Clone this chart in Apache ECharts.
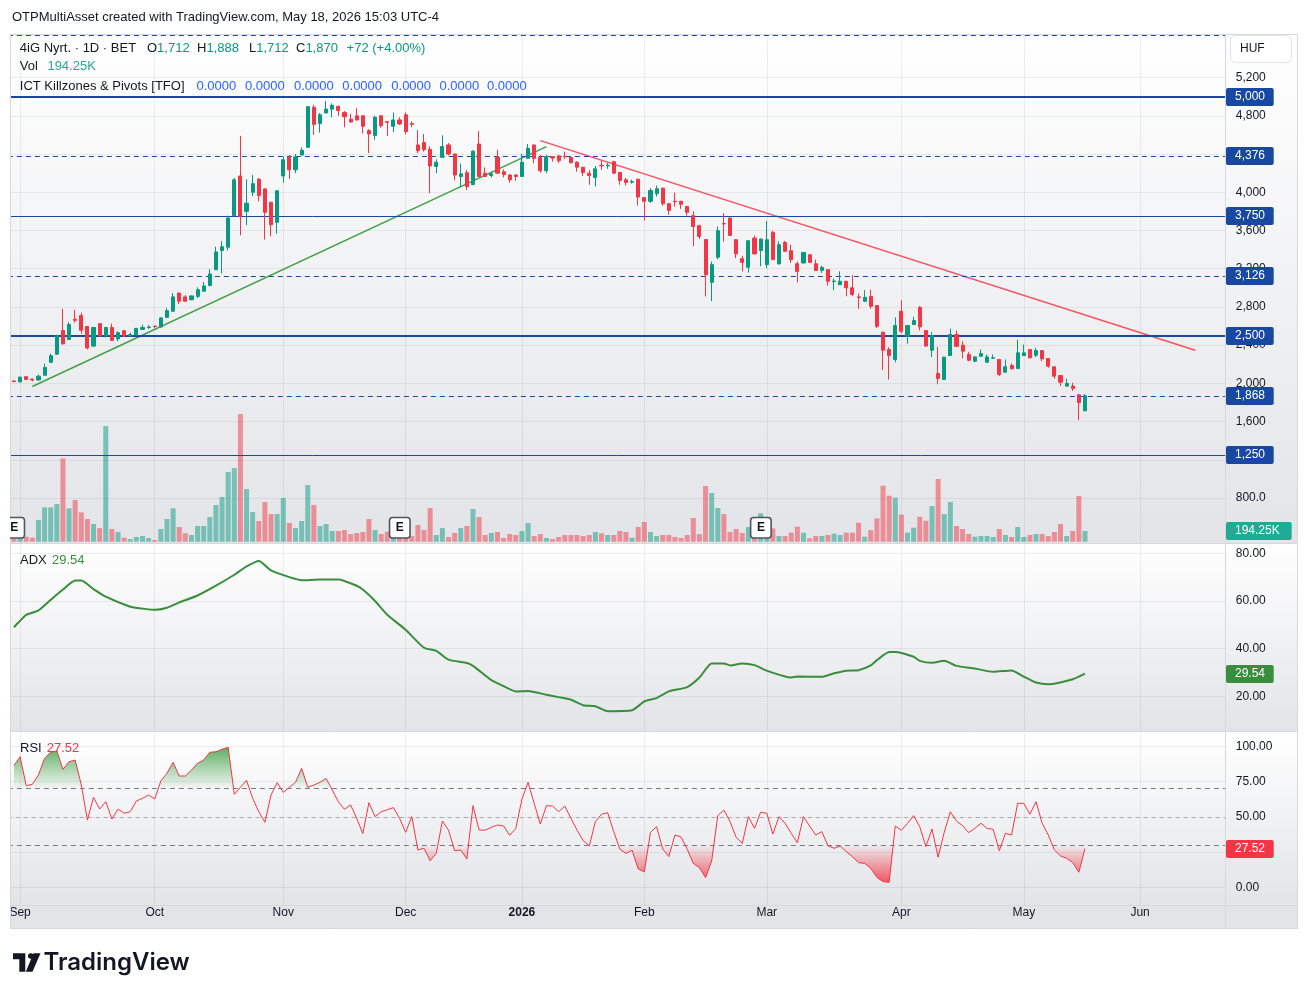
<!DOCTYPE html>
<html><head><meta charset="utf-8">
<script src="https://cdn.jsdelivr.net/npm/echarts@6/dist/echarts.min.js"></script>
<style>html,body{margin:0;padding:0;background:#fff}#c{width:1308px;height:997px}</style>
</head><body><div id="c"></div>
<script>
// ---------------- DATA (bar index 0 = 1 Sep 2025; -1 = 29 Aug 2025) ----------------
const firstBar = -1;
const open = [2025,2015,2070,2045,2035,2085,2220,2305,2552,2460,2670,2710,2595,2390,2625,2495,2585,2465,2550,2495,2505,2565,2585,2600,2590,2690,2755,2945,2905,
2875,2910,2965,3025,3190,3390,3425,3755,4170,3800,4000,4135,4035,3895,3685,4170,4365,4235,4390,4470,4890,4720,4830,4870,4900,4835,4765,4800,4800,4645,4595,
4800,4740,4690,4757,4810,4720,4495,4520,4450,4270,4365,4495,4400,4165,4205,4080,4505,4200,4175,4365,4215,4180,4180,4165,4355,4495,4365,4225,4373,4380,4375,
4365,4315,4262,4200,4155,4282,4276,4320,4206,4130,4105,4137,3945,3905,3985,4043,3880,3905,3905,3850,3755,3650,3505,3057,3320,3672,3730,3503,3305,3215,3520,
3390,3242,3580,3250,3475,3388,3252,3260,3346,3252,3182,3190,3065,3033,3068,3000,2905,2858,2910,2814,2535,2354,2250,2755,2493,2615,2796,2552,
2347,2103,2041,2291,2511,2399,2302,2232,2284,2221,2263,2250,2117,2187,2155,2291,2354,2294,2343,2260,2173,2082,1971,1971,1880,1712];
const high = [2030,2070,2075,2048,2092,2205,2310,2510,2780,2640,2770,2740,2595,2590,2630,2590,2625,2545,2560,2530,2580,2615,2610,2600,2690,2790,2945,2950,2925,
2920,3005,3060,3195,3430,3490,3755,4150,4590,4135,4180,4150,4040,3900,4020,4375,4390,4400,4470,4900,4915,4830,4955,4930,4905,4850,4820,4880,4805,4660,4800,
4805,4745,4835,4785,4835,4740,4650,4610,4480,4345,4595,4515,4405,4300,4235,4440,4640,4260,4215,4445,4240,4190,4190,4400,4505,4500,4390,4390,4378,4390,4425,
4370,4325,4265,4230,4275,4330,4305,4330,4210,4150,4130,4140,3950,4045,4070,4048,3885,3995,3910,3860,3800,3660,3510,3275,3642,3782,3735,3510,3335,3500,3545,
3515,3700,3597,3485,3490,3450,3275,3375,3350,3295,3232,3195,3096,3172,3072,3134,2940,2975,2980,2818,2540,2378,2690,2870,2610,2696,2807,2555,
2535,2382,2278,2573,2552,2441,2330,2282,2354,2302,2302,2255,2250,2208,2458,2406,2358,2372,2345,2262,2176,2086,2048,2006,1890,1888];
const low = [2015,2015,2035,2020,2030,2083,2215,2300,2405,2455,2635,2520,2355,2385,2490,2480,2445,2440,2485,2485,2500,2560,2570,2575,2585,2685,2750,2830,2855,
2870,2895,2960,3015,3185,3150,3390,3750,3550,3655,3960,3905,3505,3540,3565,4100,4140,4200,4385,4465,4600,4625,4825,4785,4800,4680,4730,4750,4615,4410,4550,
4675,4590,4630,4705,4605,4680,4410,4425,3990,4200,4360,4385,4125,4050,4025,4075,4160,4160,4155,4195,4155,4100,4120,4160,4350,4305,4205,4200,4320,4305,4350,
4300,4215,4170,4078,4060,4235,4245,4190,4078,4070,4090,3860,3705,3890,3955,3860,3765,3850,3825,3755,3435,3510,2910,2860,3300,3485,3545,3310,3172,3160,3350,
3225,3205,3290,3245,3378,3260,3057,3255,3262,3178,3155,3023,2975,3030,2912,2912,2780,2855,2780,2580,2140,2040,2220,2520,2415,2610,2555,2385,
2275,1990,2038,2288,2378,2260,2232,2221,2280,2218,2258,2075,2115,2145,2152,2288,2262,2274,2232,2163,2048,1971,1968,1920,1615,1712];
const close = [2018,2065,2040,2035,2075,2165,2290,2500,2414,2615,2660,2555,2370,2585,2495,2585,2450,2530,2495,2510,2575,2585,2590,2595,2685,2760,2905,2860,2860,
2915,2980,3020,3145,3375,3430,3730,4130,3745,3885,4090,3965,3790,3660,4015,4340,4235,4370,4440,4895,4710,4810,4870,4910,4855,4790,4735,4757,4690,4610,4785,
4695,4732,4757,4715,4635,4712,4435,4445,4275,4315,4478,4400,4180,4192,4060,4430,4165,4165,4192,4200,4185,4130,4165,4315,4460,4355,4225,4373,4358,4330,4370,
4310,4262,4206,4175,4245,4276,4282,4200,4123,4102,4112,3950,3905,4018,4036,3880,3810,3900,3875,3790,3642,3538,3137,3242,3597,3668,3548,3355,3266,3492,3355,
3510,3503,3295,3450,3382,3294,3172,3370,3266,3182,3214,3068,3071,3068,3000,2930,2898,2900,2806,2597,2347,2291,2605,2545,2605,2657,2591,2390,
2500,2051,2274,2511,2388,2336,2242,2277,2312,2277,2268,2093,2173,2152,2319,2319,2267,2343,2257,2180,2075,2012,1999,1947,1798,1870];
const volumeK = [60,70,90,73,394,624,624,685,1515,606,758,533,412,321,248,2103,230,176,73,48,85,103,67,30,230,412,606,267,155,
121,285,285,448,667,812,1267,1339,2321,957,539,376,721,503,503,794,339,248,376,1030,667,285,321,194,194,212,139,158,176,412,212,
139,180,130,100,110,103,303,212,612,121,248,85,158,248,285,594,448,121,158,176,67,139,121,194,339,103,139,67,48,85,121,
121,121,103,121,176,152,121,121,194,176,73,267,358,176,103,121,121,85,67,121,430,139,1012,885,612,503,176,230,158,267,200,
515,250,242,103,103,164,273,164,61,103,103,121,145,121,164,164,345,91,212,424,1018,836,800,491,164,255,455,382,
648,1139,503,721,285,230,139,91,103,103,85,230,121,85,267,85,121,139,139,103,176,321,103,194,830,194.25];
const rsi = [86.2,92.6,72.0,73.0,79.6,91.4,95.7,96.6,83.6,89.0,90.2,72.5,47.7,63.8,55.5,60.7,48.4,55.5,52.5,53.6,61.2,63.1,65.4,62.6,75.4,80.8,88.6,78.9,78.9,
83.1,87.9,90.2,95.7,96.1,97.8,99.2,65.9,70.9,75.8,63.1,53.6,46.1,65.4,74.2,67.3,70.9,74.4,84.3,70.9,72.5,74.4,77.2,69.0,60.7,55.3,58.4,48.9,38.1,60.0,50.1,
53.6,55.0,56.5,48.9,39.0,50.1,26.5,27.7,18.9,24.1,47.0,40.6,26.0,26.5,20.1,57.9,40.6,40.6,42.5,44.2,43.5,36.9,41.8,62.6,74.4,59.5,44.9,57.9,57.6,53.6,57.6,
48.9,40.6,33.1,29.3,46.6,51.8,52.9,39.5,27.0,24.1,26.3,13.0,11.1,39.0,43.0,27.2,21.8,37.1,35.7,27.0,17.0,14.0,6.9,18.7,50.8,54.8,46.6,35.5,31.2,50.1,41.8,
53.2,52.5,37.8,50.1,45.4,38.3,31.7,50.1,43.5,37.1,39.5,29.5,27.7,29.3,25.3,21.8,17.5,17.0,13.5,7.1,4.1,3.6,43.5,40.4,45.4,50.8,43.0,28.9,
41.4,21.3,39.0,53.6,47.0,43.7,38.8,41.8,45.4,41.8,41.1,26.0,38.3,37.1,59.5,59.5,51.8,60.7,45.4,37.1,26.5,22.3,20.6,17.5,10.7,27.52];
const adxBars = [-1,0,1,3,5,7,9,10,12,14,18,20,22,24,26,29,32,35,37,39,41,44,46,49,52,55,56,58,60,63,66,68,70,73,74,77,79,81,83,86,88,90,92,94,96,100,102,104,106,109,111,113,115,116,118,120,122,126,127,131,133,135,137,139,140,142,143,146,147,149,151,153,156,159,162,164,166,168,172,174];
const adxVal = [49,51.7,54.2,56.1,60.5,64.8,68.6,68.6,65,61.8,57.6,56.8,56.3,57.2,59.4,62.3,66.4,71,74.5,76.8,72.8,70,68.7,69,69,66.4,64.8,60,54.2,47.9,40.4,39.1,35.4,34,32.8,26.8,24.3,22.1,22.3,20.7,19.7,18.6,16.3,15.9,13.8,14.2,17.9,19.3,22.1,23.9,27.9,33.8,33.8,33,33.8,33.1,30.8,27.9,28.3,28.2,29.7,30.8,31,33,35.2,38.6,38.6,36.6,34.9,34.1,34.9,32.8,31.7,30.3,30.9,28.3,25.8,25.1,27.2,29.54];
const monthBars = [0,22,43,63,82,102,122,144,164,183];
const monthLabels = ['Sep','Oct','Nov','Dec','2026','Feb','Mar','Apr','May','Jun'];
const levelValues = [5640,5000,4376,3750,3126,2500,1868,1250];
const levelDashed = [true,false,true,false,true,false,true,false];
const levelBold   = [false,true,false,false,false,true,false,false];
const levelTagged = [false,true,true,true,true,true,true,true];
const trendGreen = [[2,1967],[86,4478]];
const trendRed = [[85,4540],[192,2347]];
const earningsBars = [-1,62,121];
const rsiLevels = [70,50,30];

// ---------------- SETUP ----------------
const F = '"Liberation Sans", Arial, sans-serif';
const TXT = '#131722', UP = '#089981', DN = '#f23645', BLUE = '#1848a0';
const GRIDC = 'rgba(42,46,57,0.08)', NONE = 'rgba(0,0,0,0)';
const catFrom = -2, catTo = 197;
const categories = [];
for (let i = catFrom; i <= catTo; i++) categories.push(String(i));
const ci = i => i - catFrom;
const N = open.length, last = N - 1, lastBar = firstBar + last;
const monthMap = new Map(monthBars.map((b, k) => [ci(b), monthLabels[k]]));

const candleData = categories.map(() => '-');
const volData = categories.map(() => '-');
const rsiData = categories.map(() => '-');
for (let k = 0; k < N; k++) {
  const c = ci(firstBar + k);
  candleData[c] = [open[k], close[k], low[k], high[k]];
  volData[c] = {value: volumeK[k], itemStyle: {color: close[k] >= open[k] ? 'rgba(8,153,129,0.5)' : 'rgba(242,54,69,0.5)'}};
  rsiData[c] = rsi[k];
}
const adxData = adxBars.map((b, k) => [ci(b), adxVal[k]]);

const L = 7.86, W = 1217.9;
const grids = [
  {top: 1.15, height: 573.3},   // 0 price
  {top: 398.7, height: 143},    // 1 volume
  {top: 553.3, height: 190.8},  // 2 adx
  {top: 746.2, height: 141.2},  // 3 rsi
  {top: 746.2, height: 42.36},  // 4 rsi >70 zone
  {top: 845.04, height: 42.36}, // 5 rsi <30 zone
  {top: 35, height: 508},       // 6 frame main
  {top: 544, height: 187},      // 7 frame adx
  {top: 733, height: 172}       // 8 frame rsi + time labels
].map(g => Object.assign({left: L, width: W, outerBoundsMode: 'none', containLabel: false}, g));

function xAx(g, extra) {
  return Object.assign({type: 'category', gridIndex: g, data: categories, boundaryGap: false,
    axisLine: {show: false}, axisTick: {show: false}, axisLabel: {show: false}, splitLine: {show: false}}, extra || {});
}
const monthSplit = {show: true, interval: (i) => monthMap.has(i), lineStyle: {color: GRIDC, width: 1}};
const xAxes = [xAx(0), xAx(1), xAx(2), xAx(3), xAx(4), xAx(5),
  xAx(6, {splitLine: monthSplit}), xAx(7, {splitLine: monthSplit}),
  xAx(8, {splitLine: monthSplit, axisLabel: {show: true, interval: (i) => monthMap.has(i), margin: 2,
    color: TXT, fontSize: 12, fontFamily: F,
    formatter: (v, i) => { const s = monthMap.get(i) || ''; return s === '2026' ? '{b|2026}' : s; },
    rich: {b: {fontWeight: 'bold', fontSize: 12, fontFamily: F, color: TXT}}}})];

const priceTicks = []; for (let v = 0; v <= 6000; v += 400) priceTicks.push(v);
const hiddenY = g => ({type: 'value', gridIndex: g, show: false});
const lab = (fmt) => ({show: true, margin: 10, color: TXT, fontSize: 12, fontFamily: F, formatter: fmt});
const yAxes = [
  {type: 'value', gridIndex: 0, position: 'right', min: 0, max: 6000, interval: 400,
   axisLine: {show: false}, axisTick: {show: false},
   axisLabel: lab(v => (v >= 1600 && v <= 5200) ? v.toLocaleString('en-US') : (v === 800 ? '800.0' : '')),
   splitLine: {show: true, lineStyle: {color: priceTicks.map(v => (v >= 800 && v <= 5200) ? GRIDC : NONE)}}},
  {type: 'value', gridIndex: 1, show: false, min: 0, max: 2600},
  {type: 'value', gridIndex: 2, position: 'right', min: 0, max: 80, interval: 20,
   axisLine: {show: false}, axisTick: {show: false},
   axisLabel: lab(v => v === 0 ? '' : v.toFixed(2)),
   splitLine: {show: true, lineStyle: {color: [NONE, GRIDC, GRIDC, GRIDC, GRIDC]}}},
  {type: 'value', gridIndex: 3, position: 'right', min: 0, max: 100, interval: 25,
   axisLine: {show: false}, axisTick: {show: false},
   axisLabel: lab(v => v.toFixed(2)),
   splitLine: {show: true, lineStyle: {color: GRIDC}}},
  {type: 'value', gridIndex: 4, show: false, min: 70, max: 100},
  {type: 'value', gridIndex: 5, show: false, min: 0, max: 30},
  hiddenY(6), hiddenY(7), hiddenY(8)
];

const levelLines = levelValues.map((v, i) => ({yAxis: v,
  lineStyle: {color: BLUE, width: levelBold[i] ? 2 : 1, type: levelDashed[i] ? [5, 4] : 'solid'}}));

const series = [
  {type: 'candlestick', xAxisIndex: 0, yAxisIndex: 0, data: candleData, barWidth: 3.6, z: 5,
   itemStyle: {color: UP, color0: DN, borderColor: UP, borderColor0: DN, borderWidth: 1},
   markLine: {symbol: ['none', 'none'], silent: true, animation: false, label: {show: false}, data: levelLines}},
  {type: 'line', xAxisIndex: 0, yAxisIndex: 0, data: trendGreen.map(p => [ci(p[0]), p[1]]), showSymbol: false,
   lineStyle: {color: '#43a047', width: 1.5}, z: 4},
  {type: 'line', xAxisIndex: 0, yAxisIndex: 0, data: trendRed.map(p => [ci(p[0]), p[1]]), showSymbol: false,
   lineStyle: {color: '#f7525f', width: 1.5}, z: 4},
  {type: 'bar', xAxisIndex: 1, yAxisIndex: 1, data: volData, barWidth: 5, z: 2},
  {type: 'line', xAxisIndex: 2, yAxisIndex: 2, data: adxData, showSymbol: false, smooth: 0.2,
   lineStyle: {color: '#388e3c', width: 2}},
  {type: 'line', xAxisIndex: 3, yAxisIndex: 3, data: rsiData, showSymbol: false, z: 5,
   lineStyle: {color: '#f23645', width: 1},
   markLine: {symbol: ['none', 'none'], silent: true, animation: false, label: {show: false},
     data: rsiLevels.map(v => ({yAxis: v, lineStyle: v === 50
       ? {color: 'rgba(120,123,134,0.55)', width: 1, type: [4, 4]}
       : {color: '#787b86', width: 1, type: [5, 4]}}))}},
  {type: 'line', xAxisIndex: 4, yAxisIndex: 4, data: rsiData, showSymbol: false, z: 3,
   lineStyle: {width: 0, opacity: 0},
   areaStyle: {origin: 'start', opacity: 1, color: {type: 'linear', x: 0, y: 746, x2: 0, y2: 789, global: true,
     colorStops: [{offset: 0, color: 'rgba(56,160,64,0.85)'}, {offset: 1, color: 'rgba(56,160,64,0.0)'}]}}},
  {type: 'line', xAxisIndex: 5, yAxisIndex: 5, data: rsiData, showSymbol: false, z: 3,
   lineStyle: {width: 0, opacity: 0},
   areaStyle: {origin: 'end', opacity: 1, color: {type: 'linear', x: 0, y: 845, x2: 0, y2: 887, global: true,
     colorStops: [{offset: 0, color: 'rgba(242,54,69,0.0)'}, {offset: 1, color: 'rgba(242,54,69,0.9)'}]}}}
];

const chart = echarts.init(document.getElementById('c'), null, {renderer: 'canvas'});
chart.setOption({animation: false, backgroundColor: '#ffffff', grid: grids, xAxis: xAxes, yAxis: yAxes, series: series});

// ---------------- DECORATION ----------------
const fmt0 = v => Math.round(v).toLocaleString('en-US');
const grad = (c1, c2) => ({type: 'linear', x: 0, y: 0, x2: 0, y2: 1, colorStops: [{offset: 0, color: c1}, {offset: 1, color: c2}]});
const els = [];
function pane(y1, y2) {
  els.push({type: 'rect', shape: {x: 10, y: y1, width: 1287, height: y2 - y1}, style: {fill: grad('#ffffff', '#e3e4e8')}, z: -10, silent: true});
}
pane(34, 543); pane(543, 732); pane(732, 905);
els.push({type: 'rect', shape: {x: 10, y: 905, width: 1287, height: 24}, style: {fill: '#e3e4e8'}, z: -10, silent: true});
const sep = (x1, y1, x2, y2, c) => els.push({type: 'line', shape: {x1, y1, x2, y2}, style: {stroke: c || '#d6d8de', lineWidth: 1}, z: 40, silent: true});
sep(10, 543.5, 1297, 543.5); sep(10, 731.5, 1297, 731.5); sep(10, 905.5, 1297, 905.5);
sep(1225.5, 34, 1225.5, 929);
els.push({type: 'rect', shape: {x: 10.5, y: 34.5, width: 1287, height: 894}, style: {fill: NONE, stroke: '#d6d8de', lineWidth: 1}, z: 40, silent: true});
// left cover (outside chart frame)
els.push({type: 'rect', shape: {x: 0, y: 30, width: 10, height: 905}, style: {fill: '#ffffff'}, z: 55, silent: true});

function txt(x, y, text, color, font, extra) {
  els.push(Object.assign({type: 'text', x, y, z: 70, silent: true,
    style: {text, fill: color || TXT, font: font || ('13px ' + F), align: 'left', verticalAlign: 'middle', textVerticalAlign: 'middle'}}, extra || {}));
}
txt(12, 17, 'OTPMultiAsset created with TradingView.com, May 18, 2026 15:03 UTC-4', TXT, '13px ' + F);
txt(19.8, 48, '4iG Nyrt. · 1D · BET', TXT);
const ohlcX = [147, 197, 249, 296];
const ohlcL = ['O', 'H', 'L', 'C'];
const ohlcV = [open[last], high[last], low[last], close[last]];
ohlcL.forEach((l, k) => {
  els.push({type: 'text', x: ohlcX[k], y: 48, z: 70, silent: true, style: {text: '{d|' + l + '}{g|' + fmt0(ohlcV[k]) + '}',
    verticalAlign: 'middle', rich: {d: {fill: TXT, font: '13px ' + F}, g: {fill: UP, font: '13px ' + F}}}});
});
const chg = close[last] - close[last - 1];
txt(346.6, 48, (chg >= 0 ? '+' : '') + fmt0(chg) + ' (' + (chg >= 0 ? '+' : '') + (chg / close[last - 1] * 100).toFixed(2) + '%)', UP);
txt(19.8, 66, 'Vol', TXT);
txt(47.4, 66, volumeK[last].toFixed(2) + 'K', '#22ab94');
txt(19.8, 86, 'ICT Killzones & Pivots [TFO]', TXT);
[196.4, 245, 294, 342.3, 391.3, 439.5, 487].forEach(x => txt(x, 86, '0.0000', '#2962ff'));
txt(20, 560, 'ADX', TXT);
txt(52, 560, adxVal[adxVal.length - 1].toFixed(2), '#388e3c');
txt(20, 748, 'RSI', TXT);
txt(46.8, 748, rsi[last].toFixed(2), DN);

// HUF box
els.push({type: 'rect', shape: {x: 1230.5, y: 35.5, width: 61, height: 27, r: 5}, style: {fill: '#ffffff', stroke: '#e0e3eb', lineWidth: 1}, z: 60, silent: true});
txt(1240, 49, 'HUF', TXT, '12px ' + F);

// right-axis tags
function tag(yc, text, bg, w) {
  els.push({type: 'rect', shape: {x: 1226, y: Math.round(yc) - 9, width: w, height: 18, r: 2}, style: {fill: bg}, z: 80, silent: true});
  els.push({type: 'text', x: 1235, y: Math.round(yc), z: 81, silent: true, style: {text, fill: '#ffffff', font: '12px ' + F, align: 'left', verticalAlign: 'middle'}});
}
levelValues.forEach((v, i) => {
  if (!levelTagged[i]) return;
  const y = chart.convertToPixel({xAxisIndex: 0, yAxisIndex: 0}, [ci(lastBar), v])[1];
  tag(y, fmt0(v), BLUE, 47.7);
});
tag(chart.convertToPixel({xAxisIndex: 1, yAxisIndex: 1}, [ci(lastBar), volumeK[last]])[1], volumeK[last].toFixed(2) + 'K', '#22ab94', 65.7);
tag(chart.convertToPixel({xAxisIndex: 2, yAxisIndex: 2}, [ci(lastBar), adxVal[adxVal.length - 1]])[1], adxVal[adxVal.length - 1].toFixed(2), '#388e3c', 47.7);
tag(chart.convertToPixel({xAxisIndex: 3, yAxisIndex: 3}, [ci(lastBar), rsi[last]])[1], rsi[last].toFixed(2), DN, 47.7);

// earnings markers
earningsBars.forEach(b => {
  const x = chart.convertToPixel({xAxisIndex: 0, yAxisIndex: 0}, [ci(b), 0])[0];
  els.push({type: 'rect', shape: {x: x - 10, y: 517.5, width: 20.5, height: 20.5, r: 3}, style: {fill: '#ffffff', stroke: '#50535e', lineWidth: 1.6}, z: 50, silent: true});
  els.push({type: 'text', x: x + 0.3, y: 528, z: 51, silent: true, style: {text: 'E', fill: '#131722', font: 'bold 12px ' + F, align: 'center', verticalAlign: 'middle'}});
});

// TradingView logo
els.push({type: 'polygon', shape: {points: [[13, 953.3], [25.3, 953.3], [25.3, 971.7], [19.3, 971.7], [19.3, 959.3], [13, 959.3]]}, style: {fill: '#131722'}, z: 70, silent: true});
els.push({type: 'circle', shape: {cx: 30.8, cy: 956, r: 2.8}, style: {fill: '#131722'}, z: 70, silent: true});
els.push({type: 'polygon', shape: {points: [[33.5, 953.3], [40.5, 953.3], [32.5, 971.7], [25.8, 971.7]]}, style: {fill: '#131722'}, z: 70, silent: true});
txt(43.5, 963, 'TradingView', '#131722', '600 24px Inter, ' + F);

chart.setOption({graphic: {elements: els}});
</script></body></html>
